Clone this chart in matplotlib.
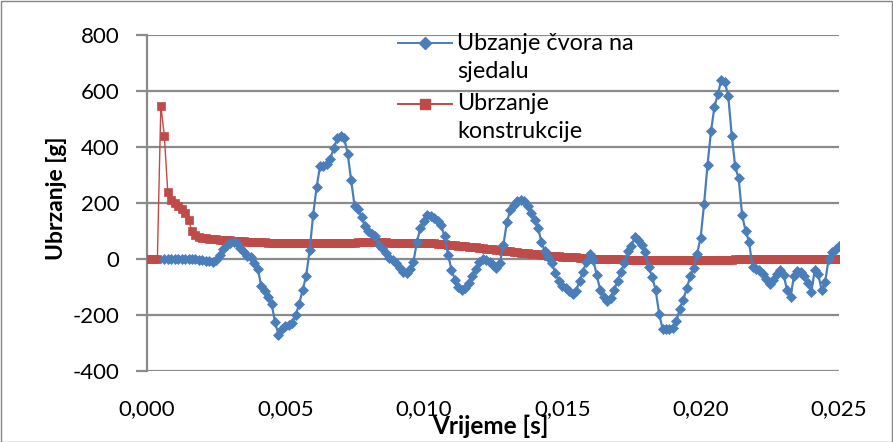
import numpy as np
import matplotlib
matplotlib.use("Agg")
import matplotlib.pyplot as plt
from matplotlib.lines import Line2D
from matplotlib.patches import Rectangle
from matplotlib.ticker import FixedLocator, FuncFormatter

plt.rcParams['font.family'] = ['Lato', 'DejaVu Sans']

# ---- data ----
time_step = 0.000125
n_points = 201
time_s = np.arange(n_points) * time_step

# "Ubrzanje konstrukcije" (red), one value per time step
red_values = [
    0, 0, 0, 0, 547, 440, 240, 210, 200, 190,
    178, 165, 140, 98, 85, 78, 75, 73, 72, 71,
    70, 69, 68, 67, 66, 65, 65, 64, 63, 62,
    62, 61, 60, 60, 59, 58, 58, 57, 57, 56,
    56, 56, 55, 55, 55, 55, 55, 55, 55, 56,
    56, 56, 57, 57, 57, 57, 58, 58, 58, 58,
    58, 59, 59, 59, 59, 59, 59, 59, 59, 59,
    58, 58, 58, 58, 58, 57, 57, 57, 57, 56,
    56, 56, 55, 55, 54, 53, 52, 51, 50, 49,
    47, 46, 45, 44, 42, 41, 40, 38, 37, 35,
    34, 32, 31, 29, 28, 27, 25, 24, 22, 21,
    20, 18, 17, 16, 15, 14, 12, 11, 10, 9,
    8, 7, 6, 5, 5, 4, 3, 2, 2, 1,
    1, 0, 0, -1, -1, -2, -2, -2, -3, -3,
    -3, -3, -3, -3, -3, -3, -3, -3, -3, -3,
    -3, -3, -3, -3, -3, -3, -3, -3, -3, -3,
    -3, -3, -3, -3, -3, -3, -3, -3, -3, -3,
    -2, -2, -2, -2, -2, -2, -2, -1, -1, -1,
    -1, -1, -1, -1, -1, -1, -1, -1, -1, -1,
    -1, -1, -1, -1, -1, -1, -1, -1, -1, -1,
    0,
]

# "Ubzanje čvora na sjedalu" (blue), one value per time step;
# the first few points are hidden under the red series
blue_start = 5
blue_values = [
    0, 0, 0, 0, 0, 0, 0, 0, 0, 0,
    0, 0, 0, 0, 0, -3, -5, -7, -8, -10,
    -5, 15, 35, 48, 58, 62, 55, 40, 25, 10,
    5, -15, -35, -95, -115, -135, -160, -225, -270, -250,
    -240, -235, -230, -200, -160, -110, -60, 30, 155, 255,
    330, 332, 340, 358, 395, 430, 440, 430, 375, 280,
    188, 178, 150, 117, 100, 90, 80, 50, 40, 22,
    3, -5, -15, -33, -45, -50, -35, -11, 60, 110,
    135, 155, 152, 145, 135, 120, 80, 15, -38, -75,
    -100, -112, -105, -85, -60, -35, -10, 0, -3, -12,
    -20, -33, -15, 50, 130, 175, 193, 208, 210, 208,
    190, 165, 140, 112, 60, 27, 5, -15, -50, -78,
    -95, -103, -115, -124, -115, -80, -45, -10, 18, -5,
    -58, -112, -135, -150, -140, -110, -78, -45, -15, 28,
    47, 78, 68, 50, 25, -30, -65, -110, -195, -249,
    -249, -249, -245, -222, -177, -145, -105, -62, -34, 19,
    75, 195, 335, 455, 543, 588, 640, 632, 580, 440,
    330, 287, 156, 100, 62, -30, -35, -40, -55, -72,
    -88, -75, -55, -38, -58, -112, -135, -60, -42, -45,
    -60, -85, -118, -40, -55, -112, -82, 0, 25, 35,
    45,
]

y_ticks = [-400, -200, 0, 200, 400, 600, 800]
x_ticks = [0.000, 0.005, 0.010, 0.015, 0.020, 0.025]
label_blue = ["Ubzanje čvora na", "sjedalu"]
label_red = ["Ubrzanje", "konstrukcije"]
x_title = "Vrijeme [s]"
y_title = "Ubrzanje [g]"

blue = "#4A7EBB"
red = "#BE4B48"
grid_col = "#8A8A8A"

W, H = 893, 442
fig = plt.figure(figsize=(W / 100, H / 100), dpi=100)
ax = fig.add_axes([147 / W, 1 - 371 / H, (839 - 147) / W, (371 - 34.7) / H])

ax.plot(time_s, red_values, color=red, lw=1.0, marker='s', ms=6.2,
        mec=red, mfc=red, mew=0.5, zorder=3)
ax.plot(time_s[blue_start:], blue_values[blue_start:], color=blue, lw=1.6,
        marker='D', ms=5.0, mec=blue, mfc=blue, mew=0.5, zorder=4)

ax.set_xlim(0, 0.025)
ax.set_ylim(-400, 800)
ax.yaxis.set_major_locator(FixedLocator(y_ticks))
ax.xaxis.set_major_locator(FixedLocator(x_ticks))
ax.xaxis.set_major_formatter(FuncFormatter(lambda v, p: f"{v:.3f}".replace('.', ',')))
ax.yaxis.set_major_formatter(FuncFormatter(lambda v, p: f"{int(round(v))}"))

ax.grid(axis='y', color=grid_col, lw=1.6, zorder=0)
ax.set_axisbelow(True)
for s in ['top', 'right', 'bottom']:
    ax.spines[s].set_visible(False)
ax.spines['left'].set_color(grid_col)
ax.spines['left'].set_linewidth(1.6)
ax.tick_params(axis='y', length=8, width=1.6, color=grid_col, labelsize=16, pad=12)
ax.tick_params(axis='x', length=0, labelsize=16, pad=20)

ax.set_xlabel(x_title, fontsize=17.5, fontweight='bold')
ax.xaxis.label.set_va('baseline')
ax.xaxis.set_label_coords(0.496, -(434 - 371) / (371 - 34.7))
ax.set_ylabel(y_title, fontsize=16.5, fontweight='bold')
ax.yaxis.set_label_coords((67 - 147) / 692, (371 - 198.3) / (371 - 34.7))

# legend (manual, no frame)
def fx(px):
    return px / W

def fy(py):
    return 1 - py / H

for col, mk, ms, ypix in [(blue, 'D', 5.8, 42.7), (red, 's', 7.0, 104.3)]:
    fig.add_artist(Line2D([fx(398), fx(452)], [fy(ypix)] * 2, transform=fig.transFigure,
                          color=col, lw=1.4))
    fig.add_artist(Line2D([fx(425)], [fy(ypix)], transform=fig.transFigure,
                          color=col, marker=mk, ms=ms, mec=col, mfc=col))
for txt, base in [(label_blue[0], 50), (label_blue[1], 77.5),
                  (label_red[0], 110.5), (label_red[1], 138)]:
    fig.text(fx(457), fy(base), txt, fontsize=16.8, va='baseline', ha='left')

fig.add_artist(Rectangle((0.5 / W, 0.5 / H), 1 - 1.5 / W, 1 - 1.5 / H,
                         transform=fig.transFigure, fill=False, ec="#868686", lw=1.0))

fig.savefig("out.png", dpi=100)
